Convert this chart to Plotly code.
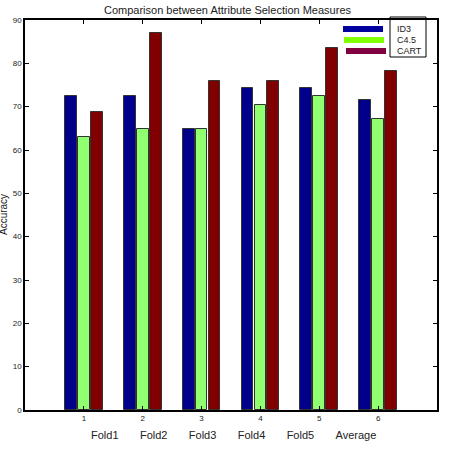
import plotly.graph_objects as go

categories = ["Fold1", "Fold2", "Fold3", "Fold4", "Fold5", "Average"]
positions = [1, 2, 3, 4, 5, 6]
series_names = ["ID3", "C4.5", "CART"]
id3 = [72.4, 72.4, 64.8, 74.3, 74.3, 71.5]
c45 = [63.0, 64.8, 64.8, 70.4, 72.4, 67.1]
cart = [68.7, 87.0, 75.9, 75.9, 83.5, 78.2]

bar_colors = ["#00008B", "#90FF70", "#800000"]
legend_colors = ["#0000A0", "#80FF00", "#800040"]
offsets = [-0.22, 0.0, 0.22]

L, R, T, B = 25, 18, 20, 40
W, H = 455, 450
PW, PH = W - L - R, H - T - B


def px(xp):
    return (xp - L) / PW


def py(yp):
    return (H - B - yp) / PH


fig = go.Figure()
for name, vals, col, off in zip(series_names, [id3, c45, cart], bar_colors, offsets):
    fig.add_trace(go.Bar(
        x=[p + off for p in positions], y=vals, width=0.2,
        marker=dict(color=col, line=dict(color="#333333", width=1)),
        showlegend=False, name=name))

shapes = [dict(type="rect", xref="paper", yref="paper",
               x0=px(390), x1=px(426), y0=py(57), y1=py(17),
               line=dict(color="black", width=1), fillcolor="rgba(0,0,0,0)")]
annotations = [dict(text="Accuracy", x=px(3), y=0.5, xref="paper", yref="paper",
                    textangle=-90, showarrow=False, xanchor="center", yanchor="middle",
                    font=dict(size=10)),
               dict(text=("\u00a0" * 7).join(categories), x=px(233), y=py(435),
                    xref="paper", yref="paper", showarrow=False,
                    xanchor="center", yanchor="middle", font=dict(size=11))]
legend_y = [29, 40, 51]
legend_x0 = [343, 344, 346]
for name, col, yy, x0 in zip(series_names, legend_colors, legend_y, legend_x0):
    shapes.append(dict(type="line", xref="paper", yref="paper",
                       x0=px(x0), x1=px(x0 + 40), y0=py(yy), y1=py(yy),
                       line=dict(color=col, width=6)))
    annotations.append(dict(text=name, x=px(395), y=py(yy), xref="paper", yref="paper",
                            showarrow=False, xanchor="left", yanchor="middle",
                            font=dict(size=9)))

fig.update_layout(
    width=W, height=H,
    margin=dict(l=L, r=R, t=T, b=B),
    paper_bgcolor="white", plot_bgcolor="white", showlegend=False,
    font=dict(family="Liberation Sans, Arial, sans-serif", color="#222222", size=9),
    title=dict(text="Comparison between Attribute Selection Measures",
               x=0.5, xanchor="center", y=0.977, yanchor="middle",
               font=dict(size=11, color="#222222")),
    bargap=0, barmode="overlay",
    xaxis=dict(range=[0, 7], tickvals=positions, ticktext=[str(p) for p in positions],
               ticks="inside", ticklen=4, tickcolor="black", mirror="ticks",
               showline=True, linecolor="black", linewidth=1.5, automargin=False,
               showgrid=False, zeroline=False, tickfont=dict(size=8)),
    yaxis=dict(range=[0, 90], dtick=10, ticks="inside", ticklen=4, tickcolor="black",
               mirror="ticks", showline=True, linecolor="black", linewidth=1.5,
               automargin=False,
               showgrid=False, zeroline=False, tickfont=dict(size=8)),
    annotations=annotations,
    shapes=shapes,
)

fig.write_html("out.html")
